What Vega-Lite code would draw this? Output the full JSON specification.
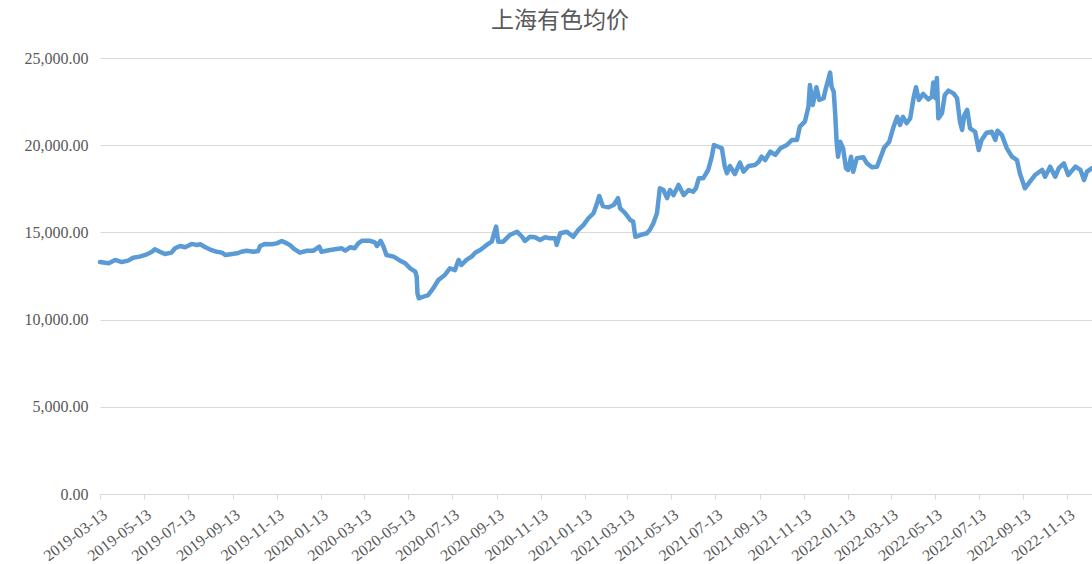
{
  "$schema": "https://vega.github.io/schema/vega-lite/v6.json",
  "width": 992,
  "height": 436,
  "autosize": {"type": "none"},
  "padding": {"left": 100, "top": 58, "right": 0, "bottom": 70},
  "background": "white",
  "title": {
    "text": "上海有色均价",
    "font": "Noto Sans CJK SC",
    "fontSize": 23,
    "fontWeight": "normal",
    "color": "#595959",
    "dx": -36,
    "offset": 17
  },
  "config": {
    "view": {"stroke": null},
    "axis": {
      "labelFont": "Liberation Serif",
      "labelFontSize": 16,
      "labelColor": "#595959"
    }
  },
  "data": {
    "values": [
      {"date": "2019-03-13", "price": 13300},
      {"date": "2019-03-25", "price": 13230},
      {"date": "2019-04-03", "price": 13420},
      {"date": "2019-04-12", "price": 13300},
      {"date": "2019-04-21", "price": 13380},
      {"date": "2019-04-28", "price": 13550},
      {"date": "2019-05-07", "price": 13610},
      {"date": "2019-05-17", "price": 13740},
      {"date": "2019-05-24", "price": 13890},
      {"date": "2019-05-28", "price": 14030},
      {"date": "2019-06-04", "price": 13890},
      {"date": "2019-06-11", "price": 13760},
      {"date": "2019-06-20", "price": 13840},
      {"date": "2019-06-25", "price": 14090},
      {"date": "2019-07-02", "price": 14220},
      {"date": "2019-07-09", "price": 14150},
      {"date": "2019-07-18", "price": 14340},
      {"date": "2019-07-25", "price": 14280},
      {"date": "2019-07-30", "price": 14320},
      {"date": "2019-08-06", "price": 14150},
      {"date": "2019-08-12", "price": 14030},
      {"date": "2019-08-22", "price": 13890},
      {"date": "2019-08-29", "price": 13840},
      {"date": "2019-09-03", "price": 13700},
      {"date": "2019-09-12", "price": 13760},
      {"date": "2019-09-19", "price": 13800},
      {"date": "2019-09-25", "price": 13890},
      {"date": "2019-10-02", "price": 13950},
      {"date": "2019-10-12", "price": 13890},
      {"date": "2019-10-18", "price": 13930},
      {"date": "2019-10-21", "price": 14220},
      {"date": "2019-10-28", "price": 14340},
      {"date": "2019-11-06", "price": 14320},
      {"date": "2019-11-13", "price": 14370},
      {"date": "2019-11-20", "price": 14510},
      {"date": "2019-11-27", "price": 14370},
      {"date": "2019-12-01", "price": 14280},
      {"date": "2019-12-06", "price": 14090},
      {"date": "2019-12-15", "price": 13840},
      {"date": "2019-12-25", "price": 13950},
      {"date": "2020-01-03", "price": 13950},
      {"date": "2020-01-11", "price": 14180},
      {"date": "2020-01-14", "price": 13890},
      {"date": "2020-01-26", "price": 13990},
      {"date": "2020-02-11", "price": 14090},
      {"date": "2020-02-16", "price": 13950},
      {"date": "2020-02-23", "price": 14150},
      {"date": "2020-02-29", "price": 14090},
      {"date": "2020-03-05", "price": 14370},
      {"date": "2020-03-10", "price": 14520},
      {"date": "2020-03-21", "price": 14520},
      {"date": "2020-03-28", "price": 14430},
      {"date": "2020-03-31", "price": 14220},
      {"date": "2020-04-05", "price": 14520},
      {"date": "2020-04-09", "price": 14180},
      {"date": "2020-04-13", "price": 13700},
      {"date": "2020-04-23", "price": 13610},
      {"date": "2020-05-02", "price": 13380},
      {"date": "2020-05-09", "price": 13230},
      {"date": "2020-05-16", "price": 12940},
      {"date": "2020-05-23", "price": 12750},
      {"date": "2020-05-25", "price": 12460},
      {"date": "2020-05-26", "price": 11510},
      {"date": "2020-05-28", "price": 11220},
      {"date": "2020-06-03", "price": 11310},
      {"date": "2020-06-10", "price": 11410},
      {"date": "2020-06-17", "price": 11800},
      {"date": "2020-06-24", "price": 12270},
      {"date": "2020-07-03", "price": 12560},
      {"date": "2020-07-10", "price": 12940},
      {"date": "2020-07-17", "price": 12840},
      {"date": "2020-07-22", "price": 13420},
      {"date": "2020-07-26", "price": 13130},
      {"date": "2020-08-02", "price": 13420},
      {"date": "2020-08-09", "price": 13610},
      {"date": "2020-08-14", "price": 13840},
      {"date": "2020-08-21", "price": 13990},
      {"date": "2020-08-30", "price": 14280},
      {"date": "2020-09-06", "price": 14470},
      {"date": "2020-09-12", "price": 15330},
      {"date": "2020-09-15", "price": 14470},
      {"date": "2020-09-22", "price": 14470},
      {"date": "2020-10-01", "price": 14850},
      {"date": "2020-10-11", "price": 15040},
      {"date": "2020-10-18", "price": 14750},
      {"date": "2020-10-22", "price": 14510},
      {"date": "2020-10-29", "price": 14750},
      {"date": "2020-11-05", "price": 14720},
      {"date": "2020-11-12", "price": 14560},
      {"date": "2020-11-19", "price": 14720},
      {"date": "2020-11-26", "price": 14660},
      {"date": "2020-12-03", "price": 14660},
      {"date": "2020-12-05", "price": 14280},
      {"date": "2020-12-10", "price": 14950},
      {"date": "2020-12-19", "price": 15040},
      {"date": "2020-12-28", "price": 14750},
      {"date": "2021-01-04", "price": 15140},
      {"date": "2021-01-11", "price": 15420},
      {"date": "2021-01-18", "price": 15810},
      {"date": "2021-01-25", "price": 16100},
      {"date": "2021-01-30", "price": 16670},
      {"date": "2021-02-02", "price": 17090},
      {"date": "2021-02-07", "price": 16510},
      {"date": "2021-02-15", "price": 16440},
      {"date": "2021-02-22", "price": 16570},
      {"date": "2021-02-28", "price": 16960},
      {"date": "2021-03-03", "price": 16380},
      {"date": "2021-03-10", "price": 16100},
      {"date": "2021-03-17", "price": 15710},
      {"date": "2021-03-21", "price": 15620},
      {"date": "2021-03-24", "price": 14750},
      {"date": "2021-03-31", "price": 14850},
      {"date": "2021-04-09", "price": 14950},
      {"date": "2021-04-13", "price": 15140},
      {"date": "2021-04-18", "price": 15520},
      {"date": "2021-04-23", "price": 16100},
      {"date": "2021-04-27", "price": 17530},
      {"date": "2021-05-02", "price": 17430},
      {"date": "2021-05-07", "price": 16960},
      {"date": "2021-05-11", "price": 17430},
      {"date": "2021-05-16", "price": 17140},
      {"date": "2021-05-23", "price": 17720},
      {"date": "2021-05-30", "price": 17140},
      {"date": "2021-06-06", "price": 17430},
      {"date": "2021-06-12", "price": 17330},
      {"date": "2021-06-16", "price": 17530},
      {"date": "2021-06-20", "price": 18100},
      {"date": "2021-06-26", "price": 18100},
      {"date": "2021-07-03", "price": 18580},
      {"date": "2021-07-08", "price": 19340},
      {"date": "2021-07-11", "price": 20010},
      {"date": "2021-07-17", "price": 19910},
      {"date": "2021-07-22", "price": 19820},
      {"date": "2021-07-26", "price": 18770},
      {"date": "2021-07-29", "price": 18390},
      {"date": "2021-08-02", "price": 18810},
      {"date": "2021-08-09", "price": 18350},
      {"date": "2021-08-16", "price": 19000},
      {"date": "2021-08-21", "price": 18480},
      {"date": "2021-08-28", "price": 18810},
      {"date": "2021-09-06", "price": 18870},
      {"date": "2021-09-11", "price": 19050},
      {"date": "2021-09-15", "price": 19340},
      {"date": "2021-09-20", "price": 19150},
      {"date": "2021-09-27", "price": 19630},
      {"date": "2021-10-04", "price": 19440},
      {"date": "2021-10-11", "price": 19820},
      {"date": "2021-10-20", "price": 20010},
      {"date": "2021-10-27", "price": 20300},
      {"date": "2021-11-03", "price": 20300},
      {"date": "2021-11-07", "price": 21060},
      {"date": "2021-11-14", "price": 21350},
      {"date": "2021-11-19", "price": 22210},
      {"date": "2021-11-21", "price": 23450},
      {"date": "2021-11-25", "price": 22310},
      {"date": "2021-11-30", "price": 23320},
      {"date": "2021-12-04", "price": 22590},
      {"date": "2021-12-10", "price": 22690},
      {"date": "2021-12-12", "price": 23070},
      {"date": "2021-12-15", "price": 23550},
      {"date": "2021-12-19", "price": 24160},
      {"date": "2021-12-21", "price": 23360},
      {"date": "2021-12-24", "price": 23070},
      {"date": "2021-12-26", "price": 21830},
      {"date": "2021-12-28", "price": 20200},
      {"date": "2021-12-30", "price": 19340},
      {"date": "2022-01-02", "price": 20200},
      {"date": "2022-01-06", "price": 19820},
      {"date": "2022-01-10", "price": 18680},
      {"date": "2022-01-13", "price": 18580},
      {"date": "2022-01-17", "price": 19340},
      {"date": "2022-01-20", "price": 18480},
      {"date": "2022-01-25", "price": 19250},
      {"date": "2022-02-03", "price": 19310},
      {"date": "2022-02-08", "price": 18960},
      {"date": "2022-02-15", "price": 18730},
      {"date": "2022-02-22", "price": 18770},
      {"date": "2022-02-26", "price": 19200},
      {"date": "2022-03-04", "price": 19860},
      {"date": "2022-03-11", "price": 20200},
      {"date": "2022-03-17", "price": 21060},
      {"date": "2022-03-22", "price": 21630},
      {"date": "2022-03-26", "price": 21160},
      {"date": "2022-03-30", "price": 21630},
      {"date": "2022-04-04", "price": 21260},
      {"date": "2022-04-09", "price": 21540},
      {"date": "2022-04-14", "price": 22780},
      {"date": "2022-04-17", "price": 23320},
      {"date": "2022-04-21", "price": 22590},
      {"date": "2022-04-27", "price": 22940},
      {"date": "2022-05-04", "price": 22630},
      {"date": "2022-05-09", "price": 22780},
      {"date": "2022-05-11", "price": 23600},
      {"date": "2022-05-14", "price": 22690},
      {"date": "2022-05-16", "price": 23850},
      {"date": "2022-05-18", "price": 21540},
      {"date": "2022-05-23", "price": 21830},
      {"date": "2022-05-27", "price": 22880},
      {"date": "2022-06-01", "price": 23130},
      {"date": "2022-06-08", "price": 22970},
      {"date": "2022-06-13", "price": 22690},
      {"date": "2022-06-17", "price": 21350},
      {"date": "2022-06-20", "price": 20870},
      {"date": "2022-06-23", "price": 21730},
      {"date": "2022-06-27", "price": 22020},
      {"date": "2022-07-01", "price": 20970},
      {"date": "2022-07-08", "price": 20770},
      {"date": "2022-07-13", "price": 19720},
      {"date": "2022-07-17", "price": 20300},
      {"date": "2022-07-24", "price": 20720},
      {"date": "2022-07-31", "price": 20770},
      {"date": "2022-08-05", "price": 20300},
      {"date": "2022-08-08", "price": 20830},
      {"date": "2022-08-14", "price": 20590},
      {"date": "2022-08-21", "price": 19820},
      {"date": "2022-08-28", "price": 19340},
      {"date": "2022-09-04", "price": 19150},
      {"date": "2022-09-08", "price": 18390},
      {"date": "2022-09-15", "price": 17530},
      {"date": "2022-09-22", "price": 17910},
      {"date": "2022-09-29", "price": 18290},
      {"date": "2022-10-09", "price": 18580},
      {"date": "2022-10-13", "price": 18190},
      {"date": "2022-10-20", "price": 18770},
      {"date": "2022-10-27", "price": 18190},
      {"date": "2022-11-01", "price": 18680},
      {"date": "2022-11-08", "price": 18960},
      {"date": "2022-11-14", "price": 18290},
      {"date": "2022-11-24", "price": 18770},
      {"date": "2022-12-01", "price": 18580},
      {"date": "2022-12-06", "price": 18000},
      {"date": "2022-12-10", "price": 18480},
      {"date": "2022-12-17", "price": 18680}
    ]
  },
  "mark": {"type": "line", "color": "#5B9BD5", "strokeWidth": 4.5, "strokeJoin": "round", "strokeCap": "round"},
  "encoding": {
    "x": {
      "field": "date",
      "type": "temporal",
      "scale": {
        "type": "utc",
        "domain": [
          {"year": 2019, "month": 3, "date": 13, "utc": true},
          {"year": 2022, "month": 12, "date": 17, "utc": true}
        ]
      },
      "axis": {
        "title": null,
        "grid": false,
        "format": "%Y-%m-%d",
        "values": [
          {"year": 2019, "month": 3, "date": 13, "utc": true},
          {"year": 2019, "month": 5, "date": 13, "utc": true},
          {"year": 2019, "month": 7, "date": 13, "utc": true},
          {"year": 2019, "month": 9, "date": 13, "utc": true},
          {"year": 2019, "month": 11, "date": 13, "utc": true},
          {"year": 2020, "month": 1, "date": 13, "utc": true},
          {"year": 2020, "month": 3, "date": 13, "utc": true},
          {"year": 2020, "month": 5, "date": 13, "utc": true},
          {"year": 2020, "month": 7, "date": 13, "utc": true},
          {"year": 2020, "month": 9, "date": 13, "utc": true},
          {"year": 2020, "month": 11, "date": 13, "utc": true},
          {"year": 2021, "month": 1, "date": 13, "utc": true},
          {"year": 2021, "month": 3, "date": 13, "utc": true},
          {"year": 2021, "month": 5, "date": 13, "utc": true},
          {"year": 2021, "month": 7, "date": 13, "utc": true},
          {"year": 2021, "month": 9, "date": 13, "utc": true},
          {"year": 2021, "month": 11, "date": 13, "utc": true},
          {"year": 2022, "month": 1, "date": 13, "utc": true},
          {"year": 2022, "month": 3, "date": 13, "utc": true},
          {"year": 2022, "month": 5, "date": 13, "utc": true},
          {"year": 2022, "month": 7, "date": 13, "utc": true},
          {"year": 2022, "month": 9, "date": 13, "utc": true},
          {"year": 2022, "month": 11, "date": 13, "utc": true}
        ],
        "labelAngle": -37,
        "labelOverlap": false,
        "labelPadding": 7,
        "domainColor": "#D9D9D9",
        "tickColor": "#D9D9D9",
        "tickSize": 5
      }
    },
    "y": {
      "field": "price",
      "type": "quantitative",
      "scale": {"domain": [0, 25000], "nice": false},
      "axis": {
        "title": null,
        "values": [0, 5000, 10000, 15000, 20000, 25000],
        "format": ",.2f",
        "domain": false,
        "ticks": false,
        "labelPadding": 12,
        "gridColor": "#D9D9D9"
      }
    }
  }
}
